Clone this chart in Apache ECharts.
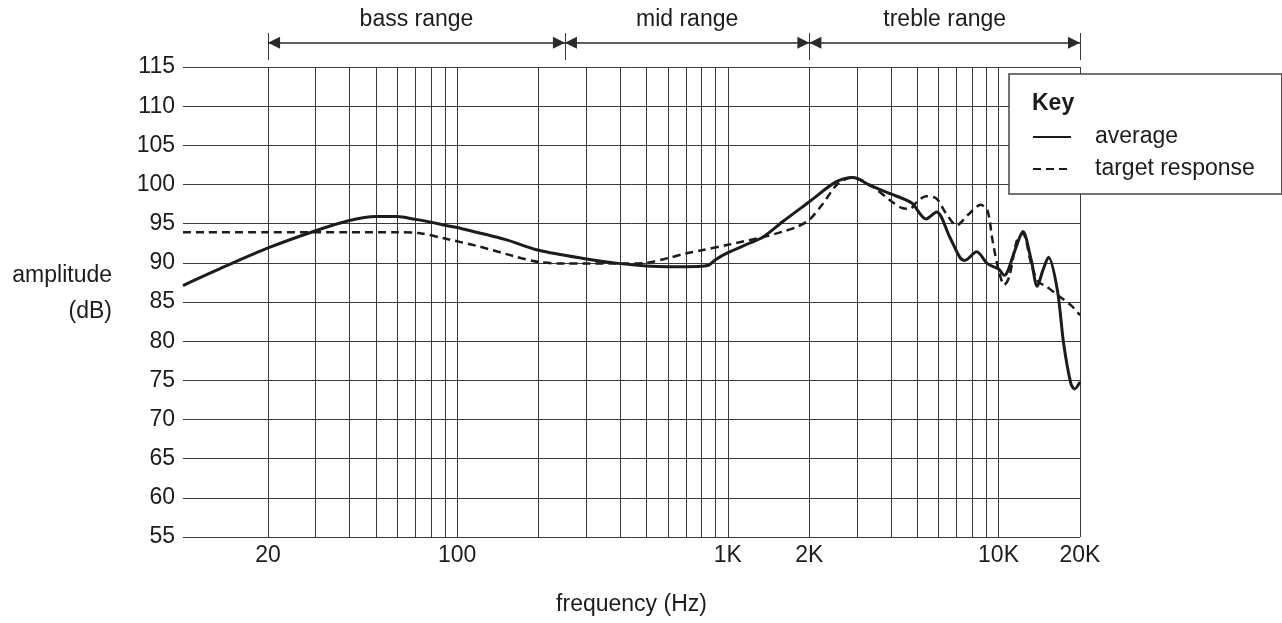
<!DOCTYPE html>
<html>
<head>
<meta charset="utf-8">
<script src="https://cdn.jsdelivr.net/npm/echarts@6/dist/echarts.min.js"></script>
<style>
    html, body { margin: 0; padding: 0; background: #fff; }
    #chart { width: 1282px; height: 623px; }
</style>
</head>
<body>
<div id="chart"></div>
<script>
// frequency response
var avgFreq = [9.7, 14, 20, 30, 40, 50, 60, 70, 80, 90, 100, 150, 200, 300, 400, 500, 600, 700, 800, 850, 900, 1000, 1200, 1350, 1600, 2000, 2500, 2900, 3350, 4000, 4500, 4800, 5400, 5900, 6600, 7200, 7500, 8300, 9100, 10000, 10500, 11500, 12300, 13200, 13900, 14600, 15300, 16500, 17400, 18500, 19100, 20000];
var avgDb = [87.1, 89.6, 91.9, 94.1, 95.4, 95.9, 95.9, 95.55, 95.2, 94.8, 94.5, 93.0, 91.6, 90.5, 89.9, 89.6, 89.5, 89.5, 89.55, 89.7, 90.4, 91.3, 92.5, 93.3, 95.3, 97.8, 100.3, 100.9, 99.9, 98.8, 98.1, 97.6, 95.6, 96.5, 93.3, 90.7, 90.3, 91.4, 89.9, 89.2, 88.4, 91.6, 94.0, 90.4, 87.0, 89.1, 90.7, 86.5, 79.7, 74.6, 73.9, 74.8];

var targetFreq = [9.7, 20, 40, 60, 72, 90, 120, 160, 200, 250, 300, 400, 500, 600, 700, 800, 1000, 1350, 1600, 1800, 2000, 2250, 2550, 2900, 3400, 4000, 4400, 4700, 5000, 5400, 5900, 6400, 7000, 7700, 8600, 9100, 9500, 10000, 10500, 10950, 11700, 12300, 13200, 14000, 15000, 16500, 18500, 20000];
var targetDb = [93.9, 93.9, 93.9, 93.9, 93.8, 93.1, 92.1, 90.9, 90.1, 89.9, 89.9, 89.9, 90.0, 90.6, 91.2, 91.6, 92.3, 93.3, 94.0, 94.6, 95.5, 97.6, 100.1, 100.9, 99.8, 97.9, 97.0, 96.9, 97.8, 98.5, 98.2, 96.3, 94.8, 96.1, 97.4, 96.7, 92.9, 89.1, 87.2, 88.2, 92.9, 93.7, 89.9, 87.6, 87.0, 85.9, 84.6, 83.3];

var gridFreq = [20, 30, 40, 50, 60, 70, 80, 90, 100, 200, 300, 400, 500, 600, 700, 800, 900, 1000, 2000, 3000, 4000, 5000, 6000, 7000, 8000, 9000, 10000, 20000];
var labelFreq = [20, 100, 1000, 2000, 10000, 20000];

var rangeNames = ['bass range', 'mid range', 'treble range'];
var rangeEdges = [20, 250, 2000, 20000];

var fontFam = '"Liberation Sans", Arial, sans-serif';
var ink = '#1c1c1c';
var gridInk = '#3a3a3a';

function pairs(xs, ys) {
    var list = [];
    for (var i = 0; i < xs.length; i++) {
        list.push([xs[i], ys[i]]);
    }
    return list;
}

function freqLabel(v) {
    v = Math.round(v);
    return v >= 1000 ? (v / 1000) + 'K' : String(v);
}

var edgeLines = rangeEdges.map(function (v) {
    return { xAxis: v };
});
var arrowLines = [];
for (var i = 0; i < rangeNames.length; i++) {
    arrowLines.push([
        { coord: [rangeEdges[i], 0.64], name: rangeNames[i] },
        { coord: [rangeEdges[i + 1], 0.64] }
    ]);
}

var myChart = echarts.init(document.getElementById('chart'));

var option = {
    animation: false,
    textStyle: { fontFamily: fontFam },
    title: {
        text: 'Key',
        left: 1032,
        top: 92,
        padding: 0,
        textStyle: { fontSize: 23, fontWeight: 'bold', color: ink, fontFamily: fontFam }
    },
    legend: {
        data: ['average', 'target response'],
        orient: 'vertical',
        left: 1009,
        top: 74,
        padding: [50, 27, 12, 23],
        backgroundColor: '#fff',
        borderColor: '#444',
        borderWidth: 1.5,
        borderRadius: 0,
        itemWidth: 38,
        itemHeight: 14,
        itemGap: 6,
        selectedMode: false,
        itemStyle: { color: 'rgba(0,0,0,0)', borderWidth: 0, opacity: 0 },
        textStyle: { fontSize: 23, color: ink, fontFamily: fontFam, lineHeight: 26, padding: [0, 0, 0, 19] }
    },
    grid: [
        { left: 183, right: 202, top: 67, height: 470 },
        { left: 183, right: 202, top: 33, height: 27 }
    ],
    xAxis: [
        {
            type: 'log',
            logBase: 10,
            min: 9.7,
            max: 20000,
            axisLine: { show: false },
            splitLine: { show: false },
            axisTick: {
                show: true,
                inside: true,
                length: 470,
                customValues: gridFreq,
                lineStyle: { color: gridInk, width: 1 }
            },
            axisLabel: {
                customValues: labelFreq,
                formatter: freqLabel,
                fontSize: 23,
                margin: 7,
                color: ink,
                fontFamily: fontFam
            },
            name: 'frequency (Hz)',
            nameLocation: 'middle',
            nameGap: 56,
            nameTextStyle: { fontSize: 23, color: ink, fontFamily: fontFam }
        },
        {
            gridIndex: 1,
            type: 'log',
            logBase: 10,
            min: 9.7,
            max: 20000,
            show: false
        }
    ],
    yAxis: [
        {
            type: 'value',
            min: 55,
            max: 115,
            interval: 5,
            axisLine: { show: false },
            axisTick: { show: false },
            splitLine: { lineStyle: { color: gridInk, width: 1 } },
            axisLabel: { fontSize: 23, margin: 8, color: ink, fontFamily: fontFam },
            name: 'amplitude\n(dB)',
            nameLocation: 'middle',
            nameRotate: 0,
            nameGap: 71,
            nameTextStyle: { fontSize: 23, color: ink, fontFamily: fontFam, align: 'right', verticalAlign: 'bottom', lineHeight: 36, padding: [0, 0, -28, 0] }
        },
        {
            gridIndex: 1,
            type: 'value',
            min: 0,
            max: 1,
            show: false
        }
    ],
    series: [
        {
            name: 'average',
            type: 'line',
            data: pairs(avgFreq, avgDb),
            symbol: 'none',
            smooth: 0.3,
            z: 3,
            lineStyle: { color: ink, width: 3 },
            itemStyle: { color: ink }
        },
        {
            name: 'target response',
            type: 'line',
            data: pairs(targetFreq, targetDb),
            symbol: 'none',
            smooth: 0.3,
            lineStyle: { color: ink, width: 2.5, type: [8, 5] },
            itemStyle: { color: ink }
        },
        {
            name: 'edges',
            type: 'line',
            xAxisIndex: 1,
            yAxisIndex: 1,
            data: [],
            silent: true,
            markLine: {
                silent: true,
                animation: false,
                symbol: ['none', 'none'],
                label: { show: false },
                lineStyle: { color: gridInk, width: 1, type: 'solid' },
                data: edgeLines
            }
        },
        {
            name: 'ranges',
            type: 'line',
            xAxisIndex: 1,
            yAxisIndex: 1,
            data: [],
            silent: true,
            markLine: {
                silent: true,
                animation: false,
                symbol: ['triangle', 'triangle'],
                symbolSize: 12,
                symbolOffset: [[0, 6], [0, 6]],
                lineStyle: { color: '#2a2a2a', width: 1.5, type: 'solid' },
                itemStyle: { color: ink },
                label: {
                    show: true,
                    position: 'middle',
                    formatter: '{b}',
                    distance: 12,
                    fontSize: 23,
                    color: ink,
                    fontFamily: fontFam
                },
                data: arrowLines
            }
        }
    ]
};

myChart.setOption(option);
</script>
</body>
</html>
